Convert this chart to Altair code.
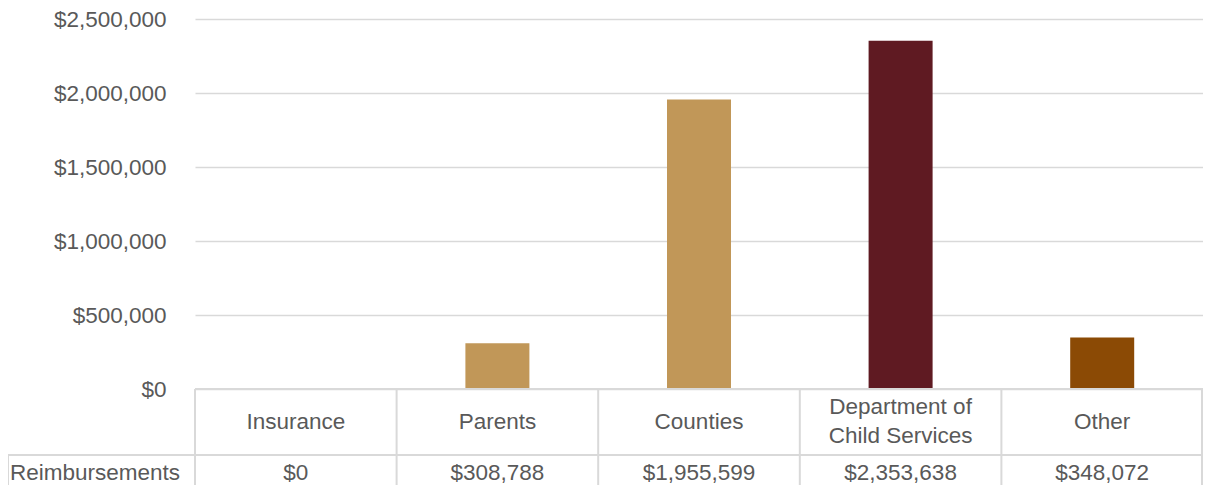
import altair as alt
import pandas as pd

categories = ["Insurance", "Parents", "Counties", "Department of Child Services", "Other"]
table_labels = ["Insurance", "Parents", "Counties", "Department of\nChild Services", "Other"]
values = [0, 308788, 1955599, 2353638, 348072]
value_labels = ["$0", "$308,788", "$1,955,599", "$2,353,638", "$348,072"]
colors = ["#C19758", "#C19758", "#C19758", "#5F1A22", "#8B4A05"]
row_title = "Reimbursements"
y_ticks = [0, 500000, 1000000, 1500000, 2000000, 2500000]

df = pd.DataFrame({
    "category": categories,
    "label": table_labels,
    "value": values,
    "value_label": value_labels,
})

W = 1008
H = 370
GRID = "#D9D9D9"
TXT = "#595959"
FONT = "Liberation Sans"
FS = 22.5

xscale = alt.Scale(paddingInner=0, paddingOuter=0)


def xenc(**kw):
    return alt.X("category:N", sort=categories, scale=xscale, axis=None, **kw)


bars = alt.Chart(df).mark_bar(size=64).encode(
    x=xenc(),
    y=alt.Y(
        "value:Q",
        scale=alt.Scale(domain=[0, 2500000], nice=False),
        axis=alt.Axis(
            title=None, values=y_ticks, format="$,.0f", domain=False, ticks=False,
            gridColor=GRID, gridWidth=1.5, labelFontSize=FS, labelColor=TXT,
            labelPadding=29, labelFont=FONT,
        ),
    ),
    color=alt.Color("category:N", sort=categories,
                    scale=alt.Scale(domain=categories, range=colors), legend=None),
)

cat_single = alt.Chart(df).transform_filter(
    "indexof(datum.label, '\\n') < 0"
).mark_text(
    fontSize=FS, color=TXT, font=FONT, baseline="middle", align="center",
).encode(
    x=xenc(),
    y=alt.value(H + 33),
    text="label:N",
)

cat_multi = alt.Chart(df).transform_filter(
    "indexof(datum.label, '\\n') >= 0"
).mark_text(
    fontSize=FS, color=TXT, font=FONT, lineBreak="\n", lineHeight=29,
    baseline="middle", align="center",
).encode(
    x=xenc(),
    y=alt.value(H + 18),
    text="label:N",
)

val_text = alt.Chart(df).mark_text(
    fontSize=FS, color=TXT, font=FONT, baseline="middle", align="center",
).encode(
    x=xenc(),
    y=alt.value(H + 84),
    text="value_label:N",
)

row_df = pd.DataFrame({"t": [row_title]})
row_text = alt.Chart(row_df).mark_text(
    fontSize=FS, color=TXT, font=FONT, baseline="middle", align="left",
).encode(
    x=alt.value(-185),
    y=alt.value(H + 84),
    text="t:N",
)

dividers = alt.Chart(df).mark_rule(color=GRID, strokeWidth=2).encode(
    x=xenc(bandPosition=0),
    y=alt.value(H),
    y2=alt.value(H + 120),
)
end_divider = alt.Chart(row_df).mark_rule(color=GRID, strokeWidth=2).encode(
    x=alt.value(W - 1), y=alt.value(H), y2=alt.value(H + 120),
)
hline = alt.Chart(row_df).mark_rule(color=GRID, strokeWidth=2).encode(
    x=alt.value(-188), x2=alt.value(W), y=alt.value(H + 66),
)
vline = alt.Chart(row_df).mark_rule(color=GRID, strokeWidth=2).encode(
    x=alt.value(-187), y=alt.value(H + 66), y2=alt.value(H + 120),
)
baseline = alt.Chart(row_df).mark_rule(color=GRID, strokeWidth=2).encode(
    x=alt.value(0), x2=alt.value(W), y=alt.value(H),
)

chart = alt.layer(
    bars, baseline, dividers, end_divider, hline, vline,
    cat_single, cat_multi, val_text, row_text,
).properties(
    width=W,
    height=H,
    autosize=alt.AutoSizeParams(type="none"),
    padding={"left": 187, "top": 11, "right": 0, "bottom": 96},
).configure(font=FONT).configure_view(strokeWidth=0, stroke="transparent")

chart.save("out.html", embed_options={"renderer": "svg", "actions": False})
